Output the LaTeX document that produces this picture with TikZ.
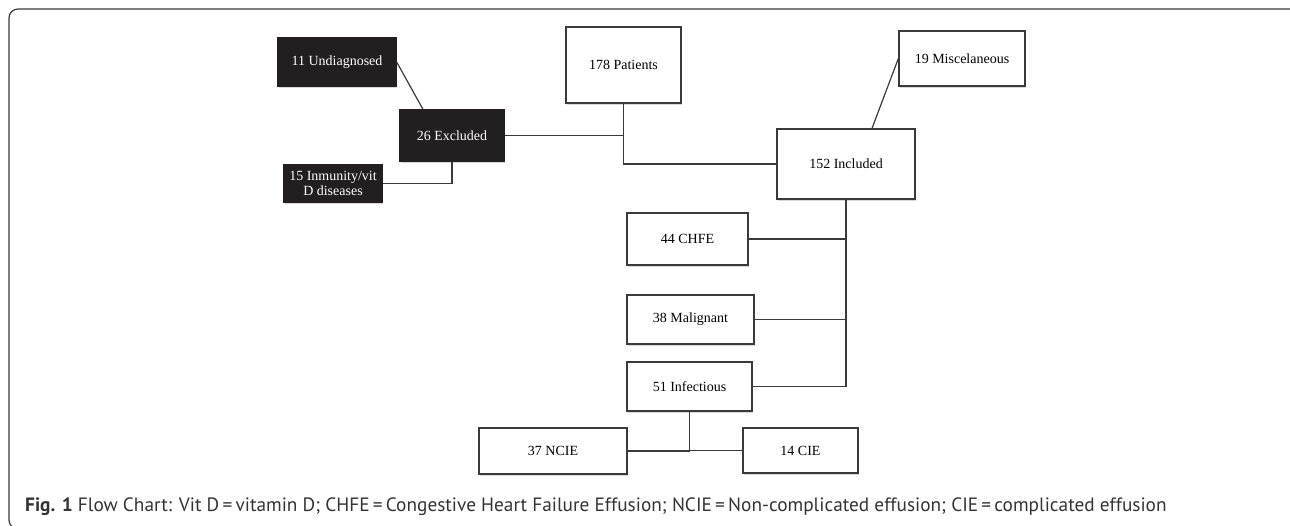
\documentclass[tikz,border=0pt]{standalone}
\usepackage{fontspec}
\setmainfont{Liberation Serif}
\newfontfamily\capfont{PT Sans}
\usetikzlibrary{shadows}
\definecolor{boxdark}{HTML}{231F20}
\definecolor{linegray}{HTML}{3A3A3A}
\begin{document}
\begin{tikzpicture}[x=1pt,y=-1pt,
    box/.style={draw=linegray,line width=1.3pt,fill=white,font=\fontsize{14}{15.5}\selectfont,
      align=center,inner sep=0pt,drop shadow={shadow xshift=1pt,shadow yshift=-2pt,fill=black!30}},
    darkbox/.style={box,fill=boxdark,draw=boxdark,text=white},
    link/.style={draw=linegray,line width=1.2pt}]
    \useasboundingbox (0,0) rectangle (1290,525);
    \clip (0,0) rectangle (1290,525);
    % frame
    \draw[linegray,line width=1.2pt,rounded corners=9pt] (9,9) rectangle (1300,529);
    % excluded side
    \node[darkbox,minimum width=118pt,minimum height=48pt] (undiag) at (337,62) {11 Undiagnosed};
    \node[darkbox,minimum width=104pt,minimum height=51pt] (excl) at (452,135.5) {26 Excluded};
    \node[darkbox,minimum width=98pt,minimum height=37pt] (inmun) at (333,183.5) {15 Inmunity/vit\\D diseases};
    % main line
    \node[box,minimum width=115pt,minimum height=76pt] (patients) at (623.5,65) {178 Patients};
    \node[box,minimum width=126pt,minimum height=55pt] (misc) at (962,58.5) {19 Miscelaneous};
    \node[box,minimum width=138pt,minimum height=70pt] (incl) at (846,164) {152 Included};
    \node[box,minimum width=121pt,minimum height=52pt] (chfe) at (687.5,239) {44 CHFE};
    \node[box,minimum width=127pt,minimum height=49pt] (malig) at (690.5,319.5) {38 Malignant};
    \node[box,minimum width=125pt,minimum height=49pt] (infec) at (689.5,386.5) {51 Infectious};
    \node[box,minimum width=148pt,minimum height=46pt] (ncie) at (553,451) {37 NCIE};
    \node[box,minimum width=115pt,minimum height=45pt] (cie) at (800.5,450.5) {14 CIE};
    % connectors
    \draw[link] (undiag.east) -- ([xshift=-29pt]excl.north);
    \draw[link] (inmun.east) -| (excl.south);
    \draw[link] (excl.east) -- (excl.east -| patients.south);
    \draw[link] (patients.south) |- (incl.west);
    \draw[link] ([xshift=26pt]incl.north) -- (misc.west);
    \draw[link] (incl.south) |- (infec.east);
    \draw[link] (chfe.east) -- (chfe.east -| incl.south);
    \draw[link] (malig.east) -- (malig.east -| incl.south);
    \draw[link] (infec.south) |- (ncie.east);
    \draw[link] (cie.west) -- (cie.west -| infec.south);
    % caption
    \node[anchor=base west,inner sep=0pt,text=black!80,font=\capfont\fontsize{19.3}{22}\selectfont] (caption) at (25,511)
      {\textbf{Fig. 1} Flow Chart: Vit D\,=\,vitamin D; CHFE\,=\,Congestive Heart Failure Effusion; NCIE\,=\,Non-complicated effusion; CIE\,=\,complicated effusion};
\end{tikzpicture}
\end{document}
